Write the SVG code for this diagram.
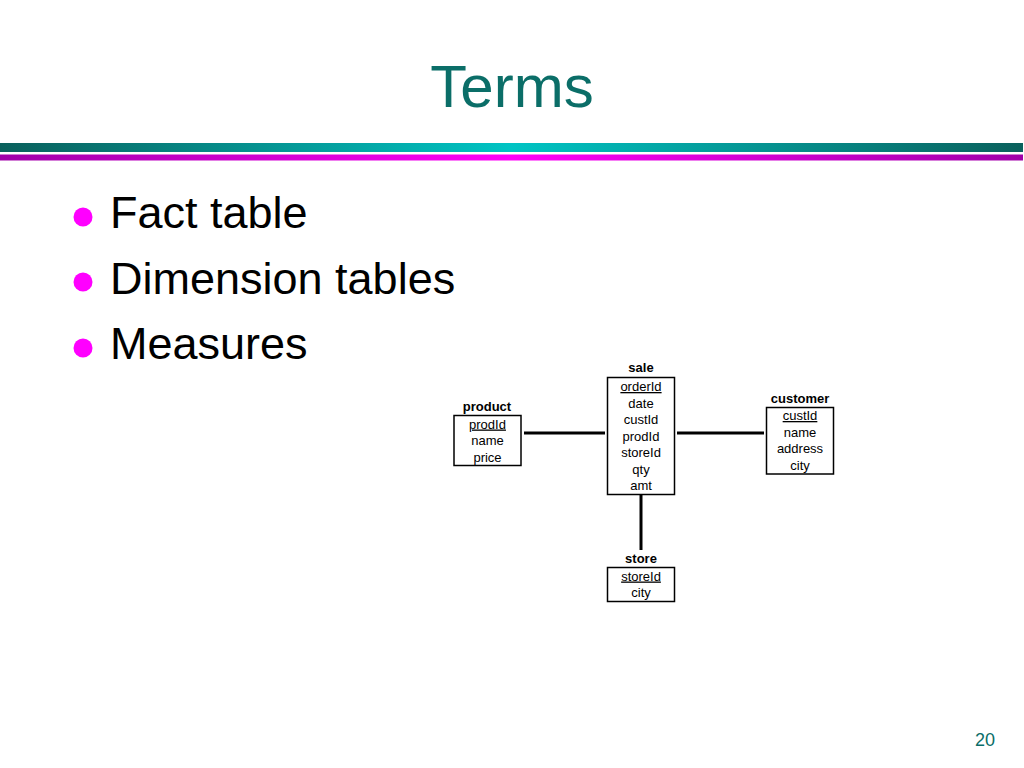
<svg xmlns="http://www.w3.org/2000/svg" width="1024" height="768" viewBox="0 0 1024 768">
  <defs>
    <linearGradient id="gTeal" x1="0" y1="0" x2="1" y2="0">
      <stop offset="0" stop-color="#0a605c"/>
      <stop offset="0.5" stop-color="#00c4c4"/>
      <stop offset="1" stop-color="#0a605c"/>
    </linearGradient>
    <linearGradient id="gMag" x1="0" y1="0" x2="1" y2="0">
      <stop offset="0" stop-color="#a000a8"/>
      <stop offset="0.5" stop-color="#ff00f8"/>
      <stop offset="1" stop-color="#a000a8"/>
    </linearGradient>
    <style>
      .title { font-family: "Liberation Sans", Arial, sans-serif; font-size: 60px; fill: #0b6e68; }
      .bullet { font-family: "Liberation Sans", Arial, sans-serif; font-size: 45px; fill: #000; }
      .dot { fill: #ff00ff; }
      .page { font-family: "Liberation Sans", Arial, sans-serif; font-size: 18px; fill: #0b6e68; }
      .box { fill: #fff; stroke: #000; stroke-width: 1.5; }
      .lbl { font-family: "Liberation Sans", Arial, sans-serif; font-size: 13px; font-weight: bold; fill: #000; text-anchor: middle; }
      .row { font-family: "Liberation Sans", Arial, sans-serif; font-size: 13px; fill: #000; text-anchor: middle; }
      .key { text-decoration: underline; }
      .conn { stroke: #000; stroke-width: 3; fill: none; }
    </style>
  </defs>
  <rect x="0" y="0" width="1024" height="768" fill="#fff"/>

  <text class="title" x="512" y="107" text-anchor="middle">Terms</text>
  <rect x="0" y="143" width="1023" height="9" fill="url(#gTeal)"/>
  <rect x="0" y="154.5" width="1023" height="6" fill="url(#gMag)"/>

  <circle class="dot" cx="83" cy="217" r="9.5"/>
  <text class="bullet" x="110" y="228">Fact table</text>
  <circle class="dot" cx="83" cy="282" r="9.5"/>
  <text class="bullet" x="110" y="294">Dimension tables</text>
  <circle class="dot" cx="83" cy="348" r="9.5"/>
  <text class="bullet" x="110" y="359">Measures</text>

  <g id="connectors">
    <line class="conn" x1="524" y1="433" x2="605" y2="433"/>
    <line class="conn" x1="677" y1="433" x2="764" y2="433"/>
    <line class="conn" x1="641" y1="495" x2="641" y2="550"/>
  </g>

  <g id="sale">
    <text class="lbl" x="641" y="372">sale</text>
    <rect class="box" x="607.5" y="377.5" width="67" height="117"/>
    <text class="row key" x="641" y="391">orderId</text>
    <text class="row" x="641" y="407.5">date</text>
    <text class="row" x="641" y="424">custId</text>
    <text class="row" x="641" y="440.5">prodId</text>
    <text class="row" x="641" y="457">storeId</text>
    <text class="row" x="641" y="473.5">qty</text>
    <text class="row" x="641" y="490">amt</text>
  </g>

  <g id="product">
    <text class="lbl" x="487" y="411">product</text>
    <rect class="box" x="454" y="415.5" width="67" height="50"/>
    <text class="row key" x="487.5" y="428.5">prodId</text>
    <text class="row" x="487.5" y="445">name</text>
    <text class="row" x="487.5" y="461.5">price</text>
  </g>

  <g id="customer">
    <text class="lbl" x="800" y="403">customer</text>
    <rect class="box" x="766.5" y="407.5" width="67" height="66.5"/>
    <text class="row key" x="800" y="420">custId</text>
    <text class="row" x="800" y="436.5">name</text>
    <text class="row" x="800" y="453">address</text>
    <text class="row" x="800" y="469.5">city</text>
  </g>

  <g id="store">
    <text class="lbl" x="641" y="563">store</text>
    <rect class="box" x="607.5" y="567.5" width="67" height="34"/>
    <text class="row key" x="641" y="580.5">storeId</text>
    <text class="row" x="641" y="597">city</text>
  </g>

  <text class="page" x="985" y="746" text-anchor="middle">20</text>
</svg>
